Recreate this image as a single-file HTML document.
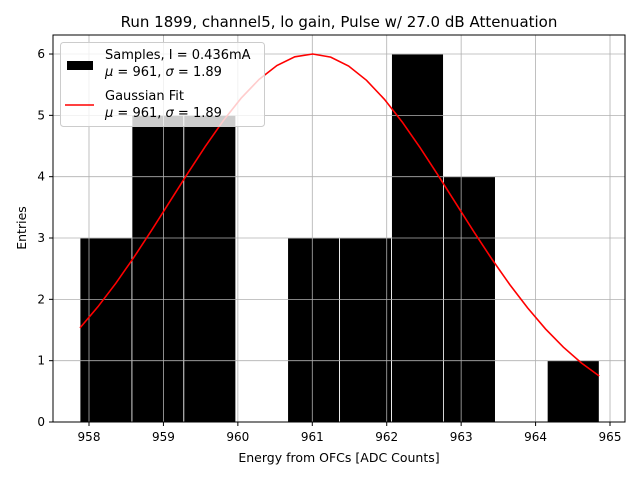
<!DOCTYPE html>
<html><head><meta charset="utf-8"><style>
body{margin:0;background:#fff;font-family:"Liberation Sans","DejaVu Sans",sans-serif}
</style></head><body>
<svg id="chart" width="640" height="480" xmlns="http://www.w3.org/2000/svg" font-family="DejaVu Sans, Liberation Sans, sans-serif">
<text x="339" y="27" text-anchor="middle" font-size="15">Run 1899, channel5, lo gain, Pulse w/ 27.0 dB Attenuation</text>
<g id="bars"></g>
<g id="grid"></g>
<g id="axes"></g>
<polyline id="fit" fill="none" stroke="red" stroke-width="1.6"/>
<rect x="53" y="35" width="572" height="387" fill="none" stroke="#000" stroke-width="1"/>
<text x="339" y="462" text-anchor="middle" font-size="12.5">Energy from OFCs [ADC Counts]</text>
<text transform="translate(26,228) rotate(-90)" text-anchor="middle" font-size="12.5">Entries</text>
<g>
<rect x="60.5" y="42.5" width="204" height="84" rx="3" fill="#fff" fill-opacity="0.8" stroke="#ccc"/>
<rect x="67" y="61" width="26" height="9" fill="#000"/>
<text x="105" y="59" font-size="13">Samples, I = 0.436mA</text>
<text x="105" y="76" font-size="13"><tspan font-style="italic">μ</tspan> = 961, <tspan font-style="italic">σ</tspan> = 1.89</text>
<line x1="65" y1="105" x2="94" y2="105" stroke="red" stroke-width="1.6"/>
<text x="105" y="100" font-size="13">Gaussian Fit</text>
<text x="105" y="117" font-size="13"><tspan font-style="italic">μ</tspan> = 961, <tspan font-style="italic">σ</tspan> = 1.89</text>
</g>
</svg>
<script>
const binEdges=[957.879,958.577,959.274,959.972,960.669,961.367,962.065,962.762,963.46,964.157,964.855];
const counts=[3,5,5,0,3,3,6,4,0,1];
const xTicks=[958,959,960,961,962,963,964,965];
const yTicks=[0,1,2,3,4,5,6];
const fitParams=[6.0,961,1.89];
const NS="http://www.w3.org/2000/svg";
const X=v=>89+(v-958)*74.43;
const Y=v=>422-v*61.33;
function mk(tag,attrs,parent){const e=document.createElementNS(NS,tag);for(const k in attrs)e.setAttribute(k,attrs[k]);parent.appendChild(e);return e;}
const grid=document.getElementById('grid'),bars=document.getElementById('bars'),axes=document.getElementById('axes');
xTicks.forEach(t=>{
 const l=mk('line',{x1:X(t),x2:X(t),y1:35,y2:422,stroke:'#b0b0b0','stroke-width':0.8},grid);
 
 
 const tk=mk('line',{x1:X(t),x2:X(t),y1:422,y2:426,stroke:'#000'},axes);
 
 
 const tx=mk('text',{x:X(t),y:441,'text-anchor':'middle','font-size':12},axes);
 tx.textContent=t;
 
 
});
yTicks.forEach(t=>{
 const l=mk('line',{x1:53,x2:625,y1:Y(t),y2:Y(t),stroke:'#b0b0b0','stroke-width':0.8},grid);
 
 
 const tk=mk('line',{x1:49,x2:53,y1:Y(t),y2:Y(t),stroke:'#000'},axes);
 
 
 const tx=mk('text',{x:45,y:Y(t)+4,'text-anchor':'end','font-size':12},axes);
 tx.textContent=t;
 
 
});
counts.forEach((c,i)=>{
 if(c<=0)return;
 const r=mk('rect',{x:X(binEdges[i]),y:Y(c),width:X(binEdges[i+1])-X(binEdges[i]),height:Y(0)-Y(c),fill:'#000',stroke:'#fff','stroke-width':0.8},bars);
 
 
});
const [A,mu,sg]=fitParams;const pts=[];
const x0=binEdges[0],x1=binEdges[binEdges.length-1],n=30;
for(let i=0;i<n;i++){const x=x0+(x1-x0)*i/(n-1);const y=A*Math.exp(-0.5*((x-mu)/sg)**2);pts.push(X(x).toFixed(1)+','+Y(y).toFixed(1));}
document.getElementById('fit').setAttribute('points',pts.join(' '));
</script>
</body></html>
